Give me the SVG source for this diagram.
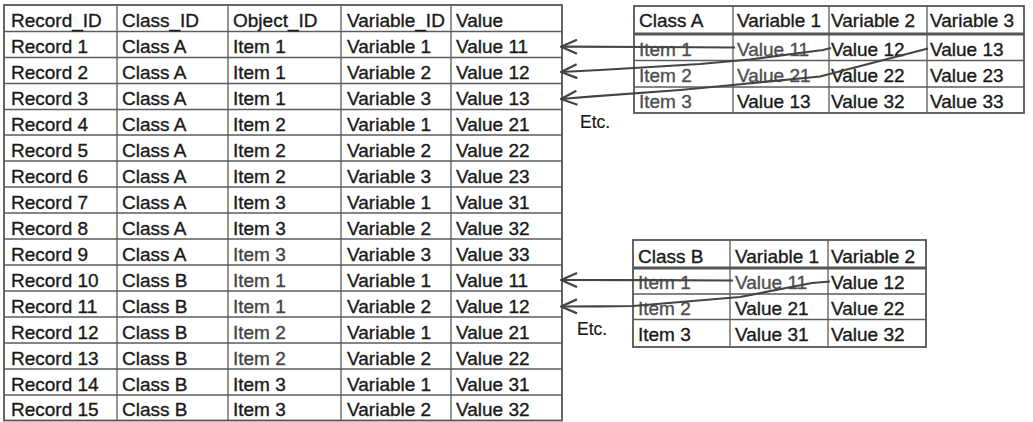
<svg xmlns="http://www.w3.org/2000/svg" width="1033" height="422" viewBox="0 0 1033 422">
<style>
text{font-family:"Liberation Sans",Arial,sans-serif;font-size:19px;fill:#1a1a1a;stroke:#1a1a1a;stroke-width:0.35}
.lt{fill:#444;stroke:#444}
.gr{fill:#4e4e4e;stroke:#4e4e4e}
.etc{font-size:17.5px;stroke-width:0.2}
.grid{stroke:#5c5c5c;stroke-width:1.3;fill:none}
.frame{stroke:#555;stroke-width:1.8;fill:none}
.thick{stroke:#555;stroke-width:3.2}
.conn{stroke:#444;stroke-width:2.2;fill:none;stroke-linejoin:round;marker-end:url(#open)}
</style>
<defs>
<marker id="open" markerUnits="userSpaceOnUse" viewBox="0 0 20 16" refX="19" refY="8" markerWidth="20" markerHeight="16" orient="auto">
<path d="M3,1 L19,8 L3,15" fill="none" stroke="#444" stroke-width="2.3"/>
</marker>
</defs>
<rect width="1033" height="422" fill="#fff"/>

<g id="records">
<rect class="frame" x="4" y="5" width="558" height="415.5"/>
<path class="grid" d="M117,5V420.5M228,5V420.5M341,5V420.5M451,5V420.5
M4,31.5H562M4,57.5H562M4,83.5H562M4,109.5H562M4,135H562M4,161H562M4,187H562M4,213H562M4,239H562M4,265H562M4,291H562M4,317H562M4,343H562M4,369H562M4,395H562"/>
<text x="11" y="27">Record_ID</text><text x="122" y="27">Class_ID</text><text x="233" y="27">Object_ID</text><text x="347" y="27">Variable_ID</text><text x="456" y="27">Value</text>
<text x="11" y="53">Record 1</text><text x="122" y="53">Class A</text><text x="233" y="53">Item 1</text><text x="347" y="53">Variable 1</text><text x="456" y="53">Value 11</text>
<text x="11" y="79">Record 2</text><text x="122" y="79">Class A</text><text x="233" y="79">Item 1</text><text x="347" y="79">Variable 2</text><text x="456" y="79">Value 12</text>
<text x="11" y="105">Record 3</text><text x="122" y="105">Class A</text><text x="233" y="105">Item 1</text><text x="347" y="105">Variable 3</text><text x="456" y="105">Value 13</text>
<text x="11" y="130.5">Record 4</text><text x="122" y="130.5">Class A</text><text x="233" y="130.5">Item 2</text><text x="347" y="130.5">Variable 1</text><text x="456" y="130.5">Value 21</text>
<text x="11" y="156.5">Record 5</text><text x="122" y="156.5">Class A</text><text x="233" y="156.5">Item 2</text><text x="347" y="156.5">Variable 2</text><text x="456" y="156.5">Value 22</text>
<text x="11" y="182.5">Record 6</text><text x="122" y="182.5">Class A</text><text x="233" y="182.5">Item 2</text><text x="347" y="182.5">Variable 3</text><text x="456" y="182.5">Value 23</text>
<text x="11" y="208.5">Record 7</text><text x="122" y="208.5">Class A</text><text x="233" y="208.5">Item 3</text><text x="347" y="208.5">Variable 1</text><text x="456" y="208.5">Value 31</text>
<text x="11" y="234.5">Record 8</text><text x="122" y="234.5">Class A</text><text x="233" y="234.5">Item 3</text><text x="347" y="234.5">Variable 2</text><text x="456" y="234.5">Value 32</text>
<text x="11" y="260.5">Record 9</text><text x="122" y="260.5">Class A</text><text class="lt" x="233" y="260.5">Item 3</text><text x="347" y="260.5">Variable 3</text><text x="456" y="260.5">Value 33</text>
<text x="11" y="286.5">Record 10</text><text x="122" y="286.5">Class B</text><text class="lt" x="233" y="286.5">Item 1</text><text x="347" y="286.5">Variable 1</text><text x="456" y="286.5">Value 11</text>
<text x="11" y="312.5">Record 11</text><text x="122" y="312.5">Class B</text><text class="lt" x="233" y="312.5">Item 1</text><text x="347" y="312.5">Variable 2</text><text x="456" y="312.5">Value 12</text>
<text x="11" y="338.5">Record 12</text><text x="122" y="338.5">Class B</text><text class="lt" x="233" y="338.5">Item 2</text><text x="347" y="338.5">Variable 1</text><text x="456" y="338.5">Value 21</text>
<text x="11" y="364.5">Record 13</text><text x="122" y="364.5">Class B</text><text class="lt" x="233" y="364.5">Item 2</text><text x="347" y="364.5">Variable 2</text><text x="456" y="364.5">Value 22</text>
<text x="11" y="390.5">Record 14</text><text x="122" y="390.5">Class B</text><text x="233" y="390.5">Item 3</text><text x="347" y="390.5">Variable 1</text><text x="456" y="390.5">Value 31</text>
<text x="11" y="416">Record 15</text><text x="122" y="416">Class B</text><text x="233" y="416">Item 3</text><text x="347" y="416">Variable 2</text><text x="456" y="416">Value 32</text>
</g>

<g id="classA">
<rect class="frame" x="634" y="6" width="390" height="107"/>
<path class="grid" d="M733,6V113M829,6V113M927,6V113M634,60.5H1024M634,87H1024"/>
<path class="thick" d="M634,34H1024"/>
<text x="639" y="27">Class A</text><text x="737" y="27">Variable 1</text><text x="831" y="27">Variable 2</text><text x="930" y="27">Variable 3</text>
<text class="gr" x="639" y="55.5">Item 1</text><text class="gr" x="737" y="55.5">Value 11</text><text x="831" y="55.5">Value 12</text><text x="930" y="55.5">Value 13</text>
<text class="gr" x="639" y="82">Item 2</text><text class="gr" x="737" y="82">Value 21</text><text x="831" y="82">Value 22</text><text x="930" y="82">Value 23</text>
<text class="gr" x="639" y="108">Item 3</text><text x="737" y="108">Value 13</text><text x="831" y="108">Value 32</text><text x="930" y="108">Value 33</text>
</g>

<g id="classB">
<rect class="frame" x="633" y="240" width="293" height="107"/>
<path class="grid" d="M730,240V347M828,240V347M633,294H926M633,319.5H926"/>
<path class="thick" d="M633,268H926"/>
<text x="638" y="262.5">Class B</text><text x="735" y="262.5">Variable 1</text><text x="831" y="262.5">Variable 2</text>
<text class="gr" x="638" y="289">Item 1</text><text class="gr" x="735" y="289">Value 11</text><text x="831" y="289">Value 12</text>
<text class="gr" x="638" y="314.5">Item 2</text><text x="735" y="314.5">Value 21</text><text x="831" y="314.5">Value 22</text>
<text x="638" y="341">Item 3</text><text x="735" y="341">Value 31</text><text x="831" y="341">Value 32</text>
</g>

<g id="etc1"><text class="etc" x="580" y="128">Etc.</text></g>
<g id="etc2"><text class="etc" x="577" y="335">Etc.</text></g>

<g id="connectors">
<polyline class="conn" points="735,47.5 650,47 561,46.7"/>
<polyline class="conn" points="831,48 823,50 750,59.5 700,64 634,68 600,70 561,72"/>
<polyline class="conn" points="928,48.5 820,76.5 733,85 680,90 590,96.7 561,99"/>
<polyline class="conn" points="733,280.5 650,280.2 561,280"/>
<polyline class="conn" points="830,281.5 812,283 740,297 633,306 600,306.3 561,306.5"/>
</g>
</svg>
